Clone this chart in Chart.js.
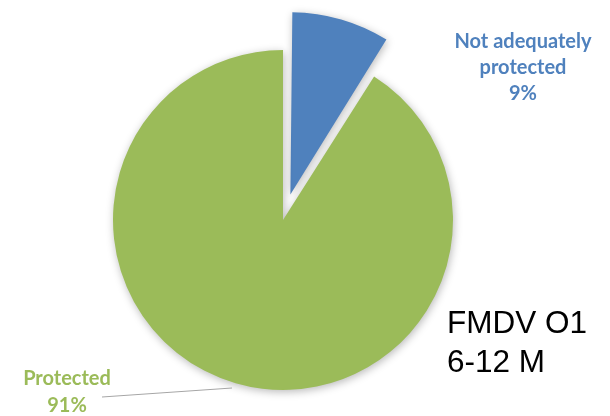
<!DOCTYPE html>
<html>
<head>
<meta charset="utf-8">
<script src="https://cdn.jsdelivr.net/npm/chart.js@4/dist/chart.umd.min.js"></script>
<style>
  html, body { margin: 0; padding: 0; background: #ffffff; }
  #wrap { width: 610px; height: 416px; position: relative; }
</style>
</head>
<body>
<div id="wrap"><canvas id="c" width="610" height="416"></canvas></div>
<script>
// Vaccine protection status, FMDV O1, 6-12 months
const categories = ['Not adequately protected', 'Protected'];
const shares = [9, 91];
const sliceColors = ['#4f81bd', '#9bbb59'];
const labelColors = ['#4f81bd', '#9bbb59'];
const noteLines = ['FMDV O1', '6-12 M'];

// soft drop shadow behind the slices
const shadowPlugin = {
  id: 'sliceShadow',
  beforeDatasetsDraw(chart) {
    const ctx = chart.ctx;
    ctx.save();
    ctx.shadowColor = 'rgba(0,0,0,0.28)';
    ctx.shadowBlur = 9;
    ctx.shadowOffsetX = 1;
    ctx.shadowOffsetY = 2;
  },
  afterDatasetsDraw(chart) {
    chart.ctx.restore();
  }
};

// category labels, leader line and side note
const labelPlugin = {
  id: 'sliceLabels',
  afterDraw(chart) {
    const ctx = chart.ctx;
    ctx.save();
    ctx.textAlign = 'center';
    ctx.textBaseline = 'alphabetic';
    ctx.font = 'bold 20px Lato, "Open Sans", sans-serif';

    // blue slice label
    ctx.fillStyle = labelColors[0];
    ctx.fillText('Not adequately', 523, 48);
    ctx.fillText('protected', 523, 74);
    ctx.fillText(shares[0] + '%', 523, 100);

    // green slice label
    ctx.fillStyle = labelColors[1];
    ctx.fillText('Protected', 67, 385);
    ctx.fillText(shares[1] + '%', 67, 412);

    // leader line from the green label to its slice
    ctx.strokeStyle = '#a6a6a6';
    ctx.lineWidth = 1;
    ctx.beginPath();
    ctx.moveTo(102, 397);
    ctx.lineTo(232, 388);
    ctx.stroke();

    // side note
    ctx.fillStyle = '#000000';
    ctx.textAlign = 'left';
    ctx.font = '31.5px "Liberation Sans", Arial, sans-serif';
    ctx.fillText(noteLines[0], 447, 333);
    ctx.fillText(noteLines[1], 447, 372);
    ctx.restore();
  }
};

new Chart(document.getElementById('c'), {
  type: 'pie',
  data: {
    labels: categories,
    datasets: [{
      data: shares,
      backgroundColor: sliceColors,
      borderWidth: 0,
      // Chart.js moves an arc by offset/4 plus a size-dependent extra,
      // so this pulls the small slice out by roughly 39px
      offset: [106, 0],
      radius: 170
    }]
  },
  options: {
    responsive: false,
    animation: false,
    layout: { padding: { left: 0, right: 44, top: 24, bottom: 0 } },
    plugins: {
      legend: { display: false },
      tooltip: { enabled: false }
    }
  },
  plugins: [shadowPlugin, labelPlugin]
});
</script>
</body>
</html>
